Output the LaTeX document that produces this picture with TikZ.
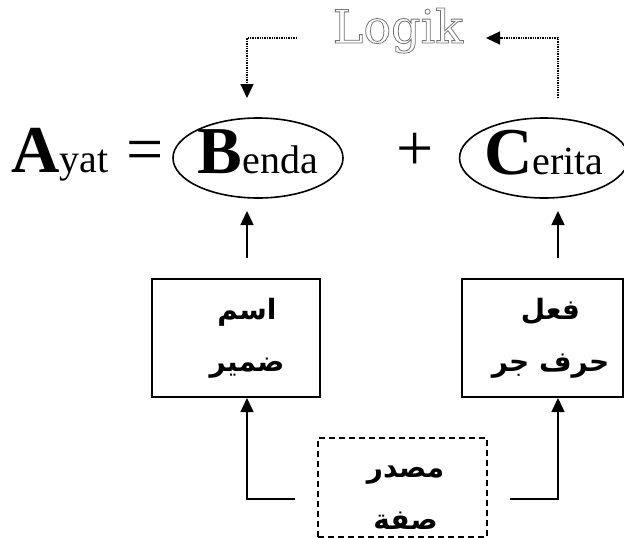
\documentclass[tikz,border=0pt]{standalone}
\usepackage{fontspec}
\setmainfont{Liberation Serif}
\newfontfamily\arabicfont[Script=Arabic]{DejaVu Sans}
\newfontfamily\logikfont{DejaVu Serif}
\TeXXeTstate=1
\usetikzlibrary{positioning,calc,shapes.geometric,arrows.meta}
\tikzset{x=1pt, y=-1pt}
\tikzstyle{none}=[inner sep=0pt]
\tikzstyle{elip}=[draw, ellipse, line width=1.6pt, inner sep=0pt, text depth=12pt]
\tikzstyle{tulisan}=[inner sep=0pt, align=center, font=\arabicfont\bfseries\fontsize{28}{52}\selectfont]
\tikzstyle{kotak}=[draw, rectangle, line width=2pt, inner sep=0pt, minimum width=168pt, minimum height=118pt]
\tikzstyle{putus}=[kotak, dash pattern=on 6pt off 4pt, line width=1.6pt]
\tikzstyle{arrow}=[line width=1.5pt, -{Triangle[length=14pt,width=13pt]}]
\tikzstyle{titik}=[arrow, line width=1.4pt, dash pattern=on 1.4pt off 1pt]
\newcommand{\huruf}[2]{{\fontsize{67}{67}\selectfont\bfseries #1}{\fontsize{40}{40}\selectfont #2}}
\newcommand{\garis}[1]{\special{pdf:code q 1 Tr 0.8 w 0.45 G}#1\special{pdf:code Q}}

\begin{document}
\begin{tikzpicture}
        \useasboundingbox (0,0) rectangle (624,538);
        % baris rumus
        \node[none, anchor=base west] (ayat) at (11,172) {\huruf{A}{yat}};
        \node[none, font=\fontsize{66}{66}\selectfont] (sama) at (145,156) {=};
        \node[elip, minimum width=170pt, minimum height=80pt] (benda) at (258,158) {\huruf{B}{enda}};
        \node[none, font=\fontsize{66}{66}\selectfont] (tambah) at (415,152) {+};
        \node[elip, minimum width=162pt, minimum height=80pt] (cerita) at (544,158) {\huruf{C}{erita}};
        \node[none, anchor=base, font=\logikfont\fontsize{46}{46}\selectfont] (logik) at (398,43) {\garis{Logik}};
        % kotak
        \node[kotak, label={[tulisan, xshift=11pt]center:\beginR اسم\endR\\\beginR ضمير\endR}] (isim) at (236,338) {};
        \node[kotak, minimum width=161pt, label={[tulisan, xshift=8pt]center:\beginR فعل\endR\\\beginR حرف جر\endR}] (fiil) at (542.5,338) {};
        \node[putus, minimum width=169pt, minimum height=99pt, label={[tulisan, xshift=3pt, yshift=-10pt]center:\beginR مصدر\endR\\\beginR صفة\endR}] (masdar) at (402.5,487.5) {};
        % titik sambung
        \coordinate (b1) at (247,258);
        \coordinate (b2) at (247,211);
        \coordinate (c1) at (558,258);
        \coordinate (c2) at (558,211);
        \coordinate (m1) at (295,499);
        \coordinate (m2) at (510,499);
        \coordinate (d1) at (297,38);
        \coordinate (d2) at (247,98);
        \coordinate (e1) at (558,98);
        \coordinate (e2) at (486,38);
        \draw[arrow] (b1) -- (b2);
        \draw[arrow] (c1) -- (c2);
        \draw[arrow] (m1) -| (isim.south -| b1);
        \draw[arrow] (m2) -| (fiil.south -| c1);
        \draw[titik] (d1) -| (d2);
        \draw[titik] (e1) |- (e2);
\end{tikzpicture}
\end{document}
